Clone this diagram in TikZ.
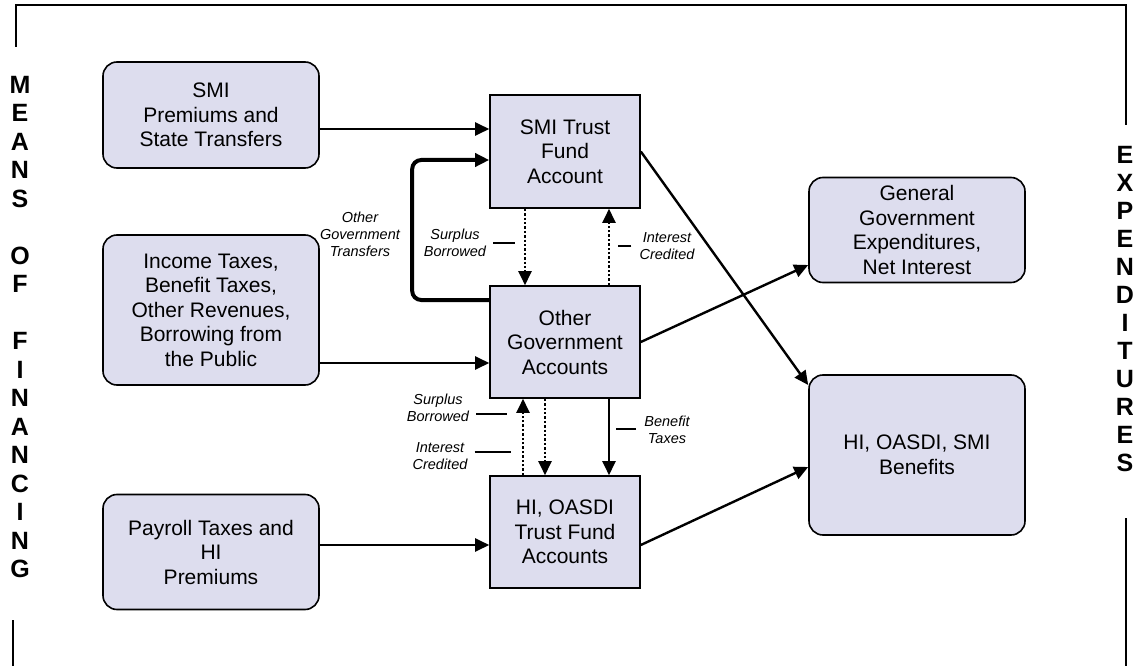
\documentclass[tikz,border=0pt]{standalone}
\usepackage{fontspec}
\setmainfont{Liberation Sans}
\usepackage{tikz}
\usetikzlibrary{arrows.meta}
\definecolor{boxfill}{RGB}{221,221,238}

\begin{document}
\begin{tikzpicture}[x=1pt,y=-1pt]
\tikzstyle{every node}+=[inner sep=0pt]
\tikzstyle{source}=[draw=black, line width=1.6pt, fill=boxfill, rounded corners=14pt, align=center, font=\fontsize{21}{24.5}\selectfont]
\tikzstyle{account}=[draw=black, line width=1.6pt, fill=boxfill, align=center, font=\fontsize{21}{24.5}\selectfont]
\tikzstyle{flow}=[line width=2.4pt, -{Triangle[length=14pt,width=13pt]}]
\tikzstyle{dotflow}=[flow, dotted]
\tikzstyle{transfer}=[line width=4pt, rounded corners=9pt, -{Triangle[length=14pt,width=13pt]}]
\tikzstyle{note}=[font=\fontsize{14.5}{17}\itshape\selectfont, align=center]
\tikzstyle{tick}=[line width=1.2pt]
\tikzstyle{side}=[font=\fontsize{25}{28.5}\bfseries\selectfont, align=center]
\useasboundingbox (0,0) rectangle (1133,666);

% frame and side titles
\draw [line width=1.5pt] (16,47) -- (16,5) -- (1126,5) -- (1126,125);
\draw [line width=1.5pt] (13,620) -- (13,666);
\draw [line width=1.5pt] (1126,518) -- (1126,666);
\node [side] (means) at (20,327) {M\\E\\A\\N\\S\\~\\O\\F\\~\\F\\I\\N\\A\\N\\C\\I\\N\\G};
\node [side, font=\fontsize{25}{28}\bfseries\selectfont] (expend) at (1125,309) {E\\X\\P\\E\\N\\D\\I\\T\\U\\R\\E\\S};

% sources
\node [source, minimum width=216pt, minimum height=106pt] (smip) at (211,115) {SMI\\Premiums and\\State Transfers};
\node [source, minimum width=216pt, minimum height=150pt] (inc) at (211,310) {Income Taxes,\\Benefit Taxes,\\Other Revenues,\\Borrowing from\\the Public};
\node [source, minimum width=216pt, minimum height=115pt] (pay) at (211,552) {Payroll Taxes and\\HI\\Premiums};

% accounts
\node [account, minimum width=150pt, minimum height=113pt] (smitf) at (565,151.5) {SMI Trust\\Fund\\Account};
\node [account, minimum width=150pt, minimum height=112pt] (oga) at (565,342) {Other\\Government\\Accounts};
\node [account, minimum width=150pt, minimum height=112pt] (hitf) at (565,532) {HI, OASDI\\Trust Fund\\Accounts};

% expenditures
\node [source, minimum width=216pt, minimum height=105pt] (ggx) at (917,230) {General\\Government\\Expenditures,\\Net Interest};
\node [source, minimum width=216pt, minimum height=160pt] (ben) at (917,455) {HI, OASDI, SMI\\Benefits};

% flows
\draw [flow] ([yshift=-14pt]smip.east) -- ([yshift=-14pt]smip.east -| smitf.west);
\draw [flow] ([yshift=-53pt]inc.east) -- ([yshift=-53pt]inc.east -| oga.west);
\draw [flow] ([yshift=7pt]pay.east) -- ([yshift=7pt]pay.east -| hitf.west);
\draw [transfer] ([yshift=42pt]oga.west) -- ++(-77,0) |- ([yshift=-8.5pt]smitf.west);
\draw [dotflow] ([xshift=-40pt]smitf.south) -- ([xshift=-40pt]smitf.south |- oga.north);
\draw [dotflow] ([xshift=44pt]oga.north) -- ([xshift=44pt]oga.north |- smitf.south);
\draw [dotflow] ([xshift=-42pt]hitf.north) -- ([xshift=-42pt]hitf.north |- oga.south);
\draw [dotflow] ([xshift=-20pt]oga.south) -- ([xshift=-20pt]oga.south |- hitf.north);
\draw [flow] ([xshift=44pt]oga.south) -- ([xshift=44pt]oga.south |- hitf.north);
\draw [flow] (smitf.east) -- ([yshift=70pt]ben.west);
\draw [flow] (oga.east) -- ([yshift=-35pt]ggx.west);
\draw [flow] ([yshift=-13pt]hitf.east) -- ([yshift=-12pt]ben.west);

% labels
\node [note] (ogt) at (360,234) {Other\\Government\\Transfers};
\node [note] (sb1) at (455,243) {Surplus\\Borrowed};
\draw [tick] ([xshift=7pt]sb1.east) -- ++(22,0);
\node [note] (ic1) at (667,246) {Interest\\Credited};
\draw [tick] ([xshift=-8pt]ic1.west) -- ++(-13,0);
\node [note] (sb2) at (438,408) {Surplus\\Borrowed};
\draw [tick] ([xshift=7pt,yshift=-6pt]sb2.east) -- ++(31,0);
\node [note] (ic2) at (440,456) {Interest\\Credited};
\draw [tick] ([xshift=7pt,yshift=4pt]ic2.east) -- ++(36,0);
\node [note] (bt) at (667,430) {Benefit\\Taxes};
\draw [tick] ([xshift=-8pt,yshift=1pt]bt.west) -- ++(-20,0);
\end{tikzpicture}
\end{document}
